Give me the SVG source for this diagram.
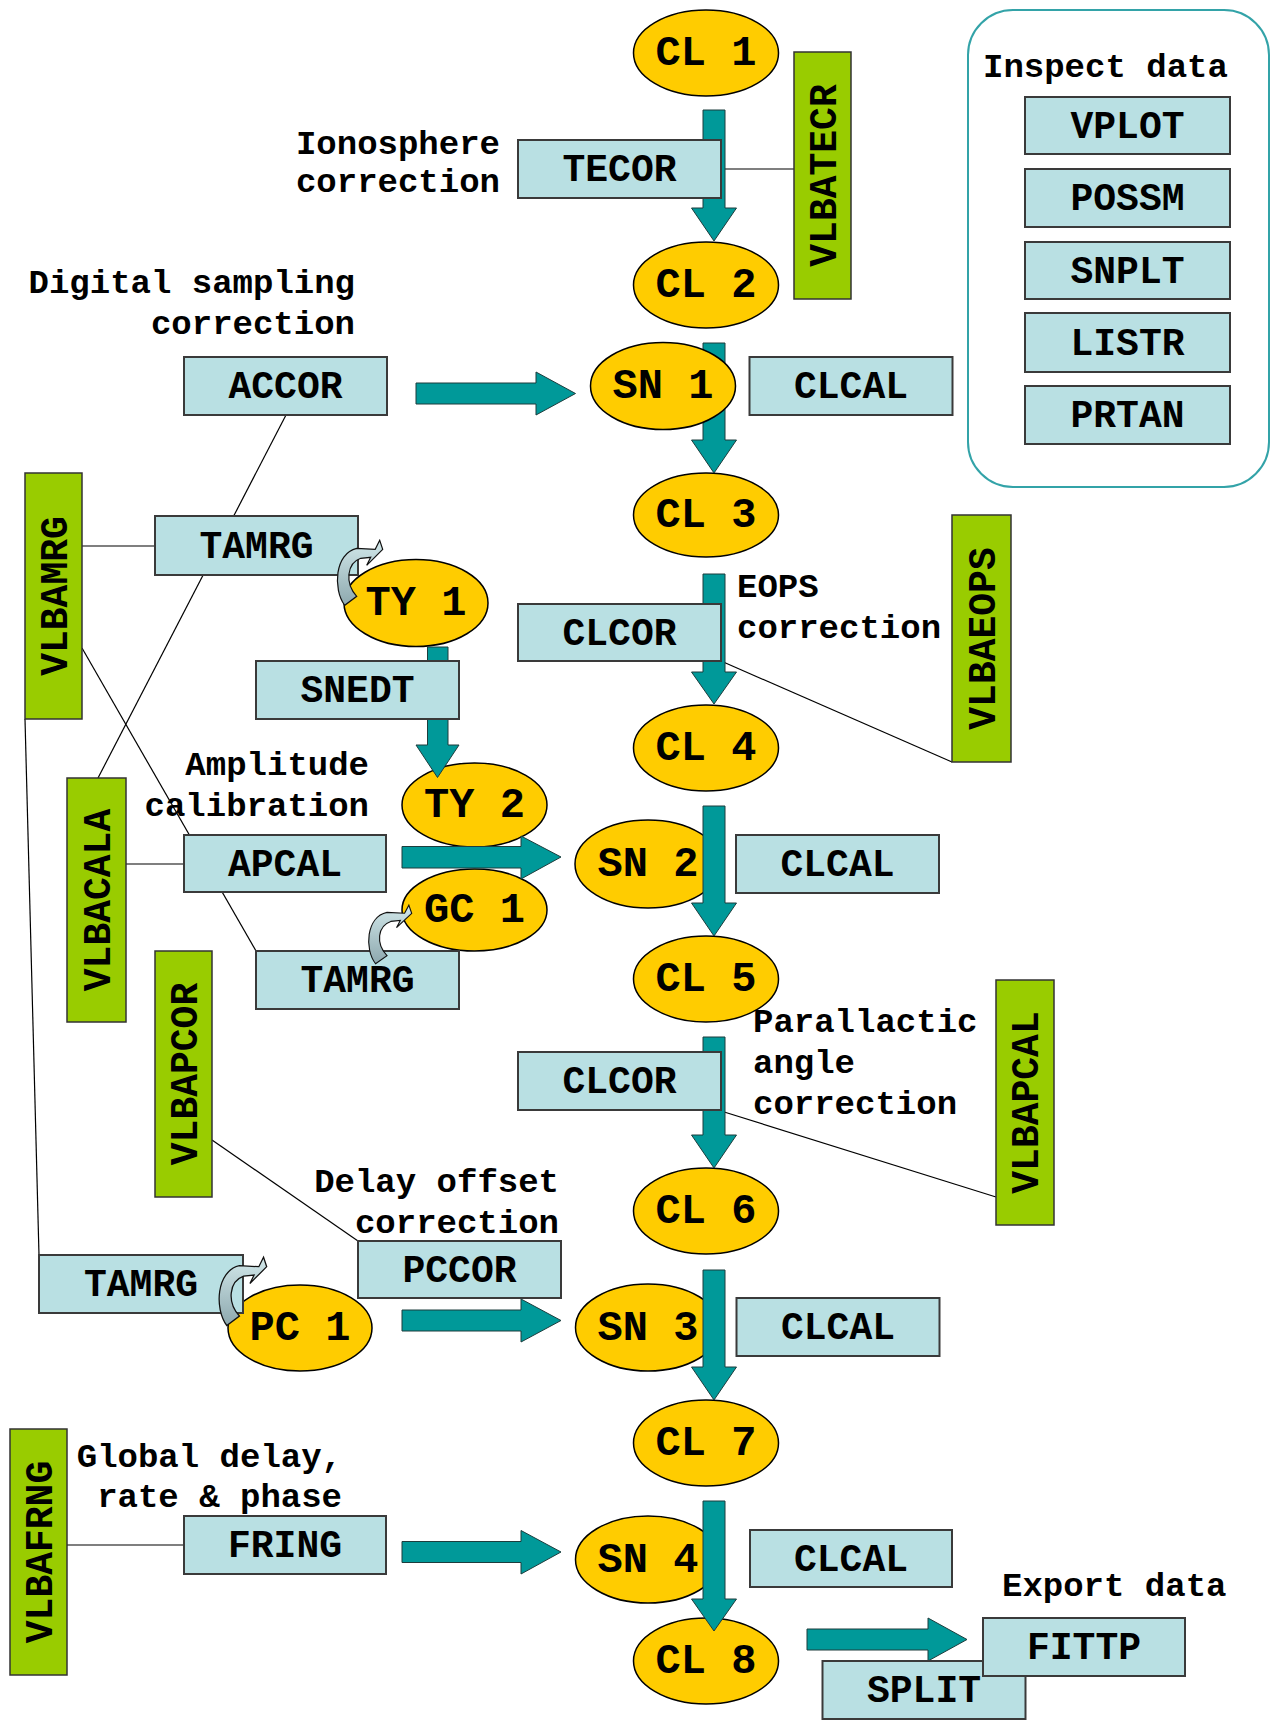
<svg xmlns="http://www.w3.org/2000/svg" width="1271" height="1720" viewBox="0 0 1271 1720">
<style>
.box{fill:#B9E0E3;stroke:#3a3a3a;stroke-width:2}
.grn{fill:#99CC00;stroke:#333;stroke-width:1.5}
.ell{fill:#FFCC00;stroke:#000;stroke-width:1.5}
.blk{fill:#009999;stroke:#1d3d3d;stroke-width:1}
.ln{stroke:#000;stroke-width:1.2;fill:none}
.curv{fill:url(#cg);stroke:#111;stroke-width:1.2}
.t{font-family:"Liberation Mono","Courier New",monospace;font-weight:bold;fill:#000}
.bl{font-size:38px;text-anchor:middle}
.el{font-size:42px;text-anchor:middle}
.vl{font-size:38px;text-anchor:middle}
.an{font-size:34px}
.end{text-anchor:end}
</style>
<defs>
<linearGradient id="cg" x1="0" y1="0" x2="0" y2="1">
<stop offset="0" stop-color="#D2E8EA"/>
<stop offset="1" stop-color="#8DA8AE"/>
</linearGradient>
<path id="curl" d="M -38,56 C -50,40 -48,4 -26,-1 L -7.5,0 L -3,-9 L 0,0 L -16,16 L -12,8 L -22,9 C -36,14 -38,34 -26,47 Z"/>
</defs>
<rect width="1271" height="1720" fill="#fff"/>

<g id="inspect-panel">
<rect x="968" y="10" width="301" height="477" rx="45" ry="45" fill="none" stroke="#33A3A8" stroke-width="2"/>
<text class="t an" x="983" y="77">Inspect data</text>
</g>

<g id="connector-lines">
<line class="ln" x1="721" y1="169" x2="794" y2="169"/>
<line class="ln" x1="286" y1="415" x2="98" y2="778"/>
<line class="ln" x1="82" y1="546" x2="155" y2="546"/>
<line class="ln" x1="82" y1="648" x2="256" y2="951"/>
<line class="ln" x1="25" y1="719" x2="39" y2="1255"/>
<line class="ln" x1="721" y1="661" x2="952" y2="762"/>
<line class="ln" x1="126" y1="864" x2="184" y2="864"/>
<line class="ln" x1="721" y1="1111" x2="996" y2="1197"/>
<line class="ln" x1="212" y1="1140" x2="358" y2="1241"/>
<line class="ln" x1="67" y1="1545" x2="184" y2="1545"/>
</g>

<g id="VLBATECR"><rect class="grn" x="794" y="52" width="57" height="247"/><text class="t vl" transform="translate(822.5,175.5) rotate(-90)" x="0" y="13">VLBATECR</text></g>
<g id="VLBAMRG"><rect class="grn" x="25" y="473" width="57" height="246"/><text class="t vl" transform="translate(53.5,596) rotate(-90)" x="0" y="13">VLBAMRG</text></g>
<g id="VLBAEOPS"><rect class="grn" x="952" y="515" width="59" height="247"/><text class="t vl" transform="translate(981.5,638.5) rotate(-90)" x="0" y="13">VLBAEOPS</text></g>
<g id="VLBACALA"><rect class="grn" x="67" y="778" width="59" height="244"/><text class="t vl" transform="translate(96.5,900) rotate(-90)" x="0" y="13">VLBACALA</text></g>
<g id="VLBAPCOR"><rect class="grn" x="155" y="951" width="57" height="246"/><text class="t vl" transform="translate(183.5,1074) rotate(-90)" x="0" y="13">VLBAPCOR</text></g>
<g id="VLBAPCAL"><rect class="grn" x="996" y="980" width="58" height="245"/><text class="t vl" transform="translate(1025,1102.5) rotate(-90)" x="0" y="13">VLBAPCAL</text></g>
<g id="VLBAFRNG"><rect class="grn" x="10" y="1429" width="57" height="246"/><text class="t vl" transform="translate(38.5,1552) rotate(-90)" x="0" y="13">VLBAFRNG</text></g>

<g id="CL1"><ellipse class="ell" cx="706" cy="53" rx="72.5" ry="43"/><text class="t el" x="706" y="65">CL 1</text></g>
<g id="CL2"><ellipse class="ell" cx="706" cy="285" rx="72.5" ry="43"/><text class="t el" x="706" y="297">CL 2</text></g>
<g id="CL3"><ellipse class="ell" cx="706" cy="515" rx="72.5" ry="42"/><text class="t el" x="706" y="527">CL 3</text></g>
<g id="CL4"><ellipse class="ell" cx="706" cy="748" rx="72.5" ry="43"/><text class="t el" x="706" y="760">CL 4</text></g>
<g id="CL5"><ellipse class="ell" cx="706" cy="979" rx="72.5" ry="43"/><text class="t el" x="706" y="991">CL 5</text></g>
<g id="CL6"><ellipse class="ell" cx="706" cy="1211" rx="72.5" ry="43"/><text class="t el" x="706" y="1223">CL 6</text></g>
<g id="CL7"><ellipse class="ell" cx="706" cy="1443" rx="72.5" ry="43"/><text class="t el" x="706" y="1455">CL 7</text></g>
<g id="CL8"><ellipse class="ell" cx="706" cy="1661" rx="72.5" ry="43"/><text class="t el" x="706" y="1673">CL 8</text></g>
<g id="SN2"><ellipse class="ell" cx="648" cy="864" rx="73" ry="44"/><text class="t el" x="648" y="876">SN 2</text></g>
<g id="SN3"><ellipse class="ell" cx="648" cy="1327.5" rx="72.5" ry="43.5"/><text class="t el" x="648" y="1340">SN 3</text></g>
<g id="SN4"><ellipse class="ell" cx="648" cy="1559.5" rx="72.5" ry="43.5"/><text class="t el" x="648" y="1572">SN 4</text></g>
<g id="TY2"><ellipse class="ell" cx="474.5" cy="805" rx="72.5" ry="42"/><text class="t el" x="474.5" y="817">TY 2</text></g>
<g id="GC1"><ellipse class="ell" cx="474.5" cy="910" rx="72.5" ry="41"/><text class="t el" x="474.5" y="922">GC 1</text></g>
<g id="PC1"><ellipse class="ell" cx="300" cy="1328" rx="72" ry="43"/><text class="t el" x="300" y="1340">PC 1</text></g>
<g id="TY1"><ellipse class="ell" cx="416" cy="603" rx="72" ry="43.5"/><text class="t el" x="416" y="615">TY 1</text></g>

<g id="connector-arrows">
<path class="blk" d="M703,110 L725,110 L725,208 L736.5,208 L714,241 L691.5,208 L703,208 Z"/>
<path class="blk" d="M703,343 L725,343 L725,440 L736.5,440 L714,473 L691.5,440 L703,440 Z"/>
<path class="blk" d="M703,574 L725,574 L725,672 L736.5,672 L714,704 L691.5,672 L703,672 Z"/>
<path class="blk" d="M703,806 L725,806 L725,903 L736.5,903 L714,936 L691.5,903 L703,903 Z"/>
<path class="blk" d="M703,1037 L725,1037 L725,1135 L736.5,1135 L714,1168 L691.5,1135 L703,1135 Z"/>
<path class="blk" d="M703,1270 L725,1270 L725,1367 L736.5,1367 L714,1400 L691.5,1367 L703,1367 Z"/>
<path class="blk" d="M703,1501 L725,1501 L725,1599 L736.5,1599 L714,1631 L691.5,1599 L703,1599 Z"/>
<path class="blk" d="M427.5,647 L448,647 L448,745 L459,745 L437.5,777.5 L416,745 L427.5,745 Z"/>
<path class="blk" d="M416,383 L536,383 L536,372 L575.5,393.5 L536,415 L536,404 L416,404 Z"/>
<path class="blk" d="M402,846.5 L521,846.5 L521,836 L561,857 L521,879 L521,868 L402,868 Z"/>
<path class="blk" d="M402,1310 L521,1310 L521,1299 L561,1320.5 L521,1342 L521,1331 L402,1331 Z"/>
<path class="blk" d="M402,1541.5 L521,1541.5 L521,1530.5 L561,1552 L521,1574 L521,1562.5 L402,1562.5 Z"/>
<path class="blk" d="M807,1629 L928,1629 L928,1618 L967,1639.5 L928,1661 L928,1650 L807,1650 Z"/>
</g>

<g id="SN1"><ellipse class="ell" cx="663" cy="386" rx="72.5" ry="43.5"/><text class="t el" x="663" y="398">SN 1</text></g>

<g id="TECOR"><rect class="box" x="518" y="140" width="203" height="58"/><text class="t bl" x="619.5" y="181">TECOR</text></g>
<g id="ACCOR"><rect class="box" x="184" y="357" width="203" height="58"/><text class="t bl" x="285.5" y="398">ACCOR</text></g>
<g id="CLCAL1"><rect class="box" x="749.5" y="357" width="203" height="58"/><text class="t bl" x="851" y="398">CLCAL</text></g>
<g id="VPLOT"><rect class="box" x="1025" y="97" width="205" height="57"/><text class="t bl" x="1127.5" y="137.5">VPLOT</text></g>
<g id="POSSM"><rect class="box" x="1025" y="169" width="205" height="58"/><text class="t bl" x="1127.5" y="210">POSSM</text></g>
<g id="SNPLT"><rect class="box" x="1025" y="242" width="205" height="57"/><text class="t bl" x="1127.5" y="282.5">SNPLT</text></g>
<g id="LISTR"><rect class="box" x="1025" y="313" width="205" height="59"/><text class="t bl" x="1127.5" y="354.5">LISTR</text></g>
<g id="PRTAN"><rect class="box" x="1025" y="386" width="205" height="58"/><text class="t bl" x="1127.5" y="427">PRTAN</text></g>
<g id="TAMRG1"><rect class="box" x="155" y="516" width="203" height="59"/><text class="t bl" x="256.5" y="557.5">TAMRG</text></g>
<g id="CLCOR1"><rect class="box" x="518" y="604" width="203" height="57"/><text class="t bl" x="619.5" y="644.5">CLCOR</text></g>
<g id="SNEDT"><rect class="box" x="256" y="661" width="203" height="58"/><text class="t bl" x="357.5" y="702">SNEDT</text></g>
<g id="APCAL"><rect class="box" x="184" y="835" width="202" height="57"/><text class="t bl" x="285" y="875.5">APCAL</text></g>
<g id="CLCAL2"><rect class="box" x="736" y="835" width="203" height="58"/><text class="t bl" x="837.5" y="876">CLCAL</text></g>
<g id="TAMRG2"><rect class="box" x="256" y="951" width="203" height="58"/><text class="t bl" x="357.5" y="992">TAMRG</text></g>
<g id="CLCOR2"><rect class="box" x="518" y="1052" width="203" height="58"/><text class="t bl" x="619.5" y="1093">CLCOR</text></g>
<g id="PCCOR"><rect class="box" x="358" y="1241" width="203" height="57"/><text class="t bl" x="459.5" y="1281.5">PCCOR</text></g>
<g id="TAMRG3"><rect class="box" x="39" y="1255" width="204" height="58"/><text class="t bl" x="141" y="1296">TAMRG</text></g>
<g id="CLCAL3"><rect class="box" x="736.5" y="1298" width="203" height="58"/><text class="t bl" x="838" y="1339">CLCAL</text></g>
<g id="FRING"><rect class="box" x="184" y="1516" width="202" height="58"/><text class="t bl" x="285" y="1557">FRING</text></g>
<g id="CLCAL4"><rect class="box" x="750" y="1530" width="202" height="57"/><text class="t bl" x="851" y="1570.5">CLCAL</text></g>
<g id="SPLIT"><rect class="box" x="822.5" y="1661" width="203" height="58"/><text class="t bl" x="924" y="1702">SPLIT</text></g>
<g id="FITTP"><rect class="box" x="983" y="1618" width="202" height="58"/><text class="t bl" x="1084" y="1659">FITTP</text></g>

<g id="connector-curls">
<use href="#curl" class="curv" transform="translate(382.7,549.3)"/>
<use href="#curl" class="curv" transform="translate(411.7,913.3) scale(0.95,0.9)"/>
<use href="#curl" class="curv" transform="translate(266.7,1266.7) scale(1.05,1.05)"/>
</g>

<g id="annotations">
<text class="t an end" x="500" y="154">Ionosphere</text>
<text class="t an end" x="500" y="192">correction</text>
<text class="t an end" x="355" y="293">Digital sampling</text>
<text class="t an end" x="355" y="334">correction</text>
<text class="t an" x="737" y="597">EOPS</text>
<text class="t an" x="737" y="638">correction</text>
<text class="t an end" x="369" y="775">Amplitude</text>
<text class="t an end" x="369" y="816">calibration</text>
<text class="t an" x="753" y="1032">Parallactic</text>
<text class="t an" x="753" y="1073">angle</text>
<text class="t an" x="753" y="1114">correction</text>
<text class="t an end" x="559" y="1192">Delay offset</text>
<text class="t an end" x="559" y="1233">correction</text>
<text class="t an end" x="342" y="1467">Global delay,</text>
<text class="t an end" x="342" y="1507">rate &amp; phase</text>
<text class="t an" x="1002" y="1596">Export data</text>
</g>
</svg>
